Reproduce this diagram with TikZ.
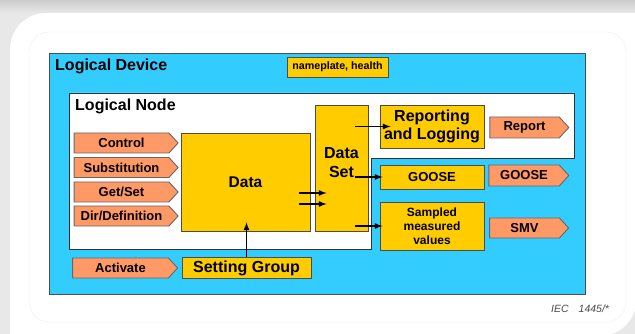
\documentclass[tikz,border=0pt]{standalone}
\usepackage{fontspec}
\setmainfont{Liberation Sans}
\usetikzlibrary{calc, shapes.symbols}
\definecolor{devcyan}{HTML}{33CCFF}
\definecolor{boxyellow}{HTML}{FFCC00}
\definecolor{sigsalmon}{HTML}{FF9966}

\begin{document}
\begin{tikzpicture}[x=1pt, y=-1pt, >=latex,
  box/.style={draw=black!70, line width=0.9pt, fill=boxyellow, font=\bfseries, align=center},
  sig/.style={signal, signal to=east, signal pointer angle=95, draw=black!60,
    line width=0.9pt, fill=sigsalmon, minimum height=20pt, inner sep=0pt,
    font=\bfseries\fontsize{13}{15}\selectfont},
  title/.style={anchor=west, inner sep=0pt, font=\bfseries\fontsize{16}{18}\selectfont},
  flow/.style={->, line width=1.6pt}]
  \useasboundingbox (0,0) rectangle (635,334);
  % card and its shadow
  \fill [gray!18] (0,0) rectangle (635,334);
  \shade [top color=gray!40, bottom color=gray!18] (0,0) rectangle (635,13);
  \begin{scope}
    \clip (0,0) rectangle (635,334);
    \fill [white] (10,340) [rounded corners=36] -- (10,13) [sharp corners] -- (640,13)
      [rounded corners=36] -- (636,336) [sharp corners] -- (300,336) -- cycle;
  \end{scope}
  \draw [gray!12, rounded corners=20] (29,32) rectangle (626,322);
  % logical device
  \draw [fill=devcyan, draw=black!70, line width=0.9pt] (49,53) rectangle (585,294);
  \node [title] (ldtitle) at (55,66) {Logical Device};
  \node [box, minimum width=101pt, minimum height=20pt, font=\bfseries\fontsize{10.7}{12}\selectfont]
    (nameplate) at (337.5,67) {nameplate, health};
  % logical node
  \draw [fill=white, draw=black!80, line width=0.9pt]
    (69,93) -- (574,93) -- (574,158) -- (371,158) -- (371,249) -- (69,249) -- cycle;
  \node [title] (lntitle) at (75,106) {Logical Node};
  \node [box, minimum width=129pt, minimum height=98pt, font=\bfseries\fontsize{15.5}{18}\selectfont]
    (data) at (245.5,182) {Data};
  \node [box, minimum width=53pt, minimum height=126pt, text depth=12pt, font=\bfseries\fontsize{16}{19}\selectfont]
    (dset) at (341.5,168) {Data\\Set};
  \node [box, minimum width=104pt, minimum height=43pt, font=\bfseries\fontsize{16}{18}\selectfont]
    (rep) at (432,126.5) {Reporting\\and Logging};
  \node [box, minimum width=104pt, minimum height=24pt, font=\bfseries\fontsize{13}{15}\selectfont]
    (goose) at (432,177) {GOOSE};
  \node [box, minimum width=104pt, minimum height=48pt, font=\bfseries\fontsize{12}{14}\selectfont]
    (smv) at (432,226) {Sampled\\measured\\values};
  \node [box, minimum width=129pt, minimum height=20pt, font=\bfseries\fontsize{16}{18}\selectfont]
    (sg) at (246.5,268) {Setting Group};
  % services
  \node [sig, minimum width=104pt] (control) at (121.5,143) {Control};
  \node [sig, minimum width=104pt] (subst) at (121.5,167.5) {Substitution};
  \node [sig, minimum width=104pt] (getset) at (121.5,192) {Get/Set};
  \node [sig, minimum width=104pt] (dirdef) at (121.5,216) {Dir/Definition};
  \node [sig, minimum width=105pt] (activate) at (120.5,268) {Activate};
  \node [sig, minimum width=79pt, minimum height=21pt] (report) at (524.5,127.5) {Report};
  \node [sig, minimum width=80pt, minimum height=21pt] (goosesig) at (524,175.5) {GOOSE};
  \node [sig, minimum width=79pt] (smvsig) at (524.5,228) {SMV};
  % flows
  \draw [flow] (sg.north) -- ($(sg.north |- data.south)+(0,-9)$);
  \draw [flow] ($(data.east)+(-11,11)$) -- ($(dset.west |- data.east)+(12,11)$);
  \draw [flow] ($(data.east)+(-11,22)$) -- ($(dset.west |- data.east)+(12,22)$);
  \draw [flow] ($(rep.west -| dset.east)+(-13,0)$) -- ($(rep.west)+(11,0)$);
  \draw [flow] ($(goose.west -| dset.east)+(-13,0)$) -- ($(goose.west)+(3,0)$);
  \draw [flow] ($(smv.west -| dset.east)+(-13,0)$) -- ($(smv.west)+(3,0)$);
  \node (iec) at (551,309) [anchor=west, inner sep=0pt, text=gray!60!black, font=\itshape\fontsize{10.5}{12}\selectfont] {IEC\hspace{10pt}1445/*};
\end{tikzpicture}
\end{document}
